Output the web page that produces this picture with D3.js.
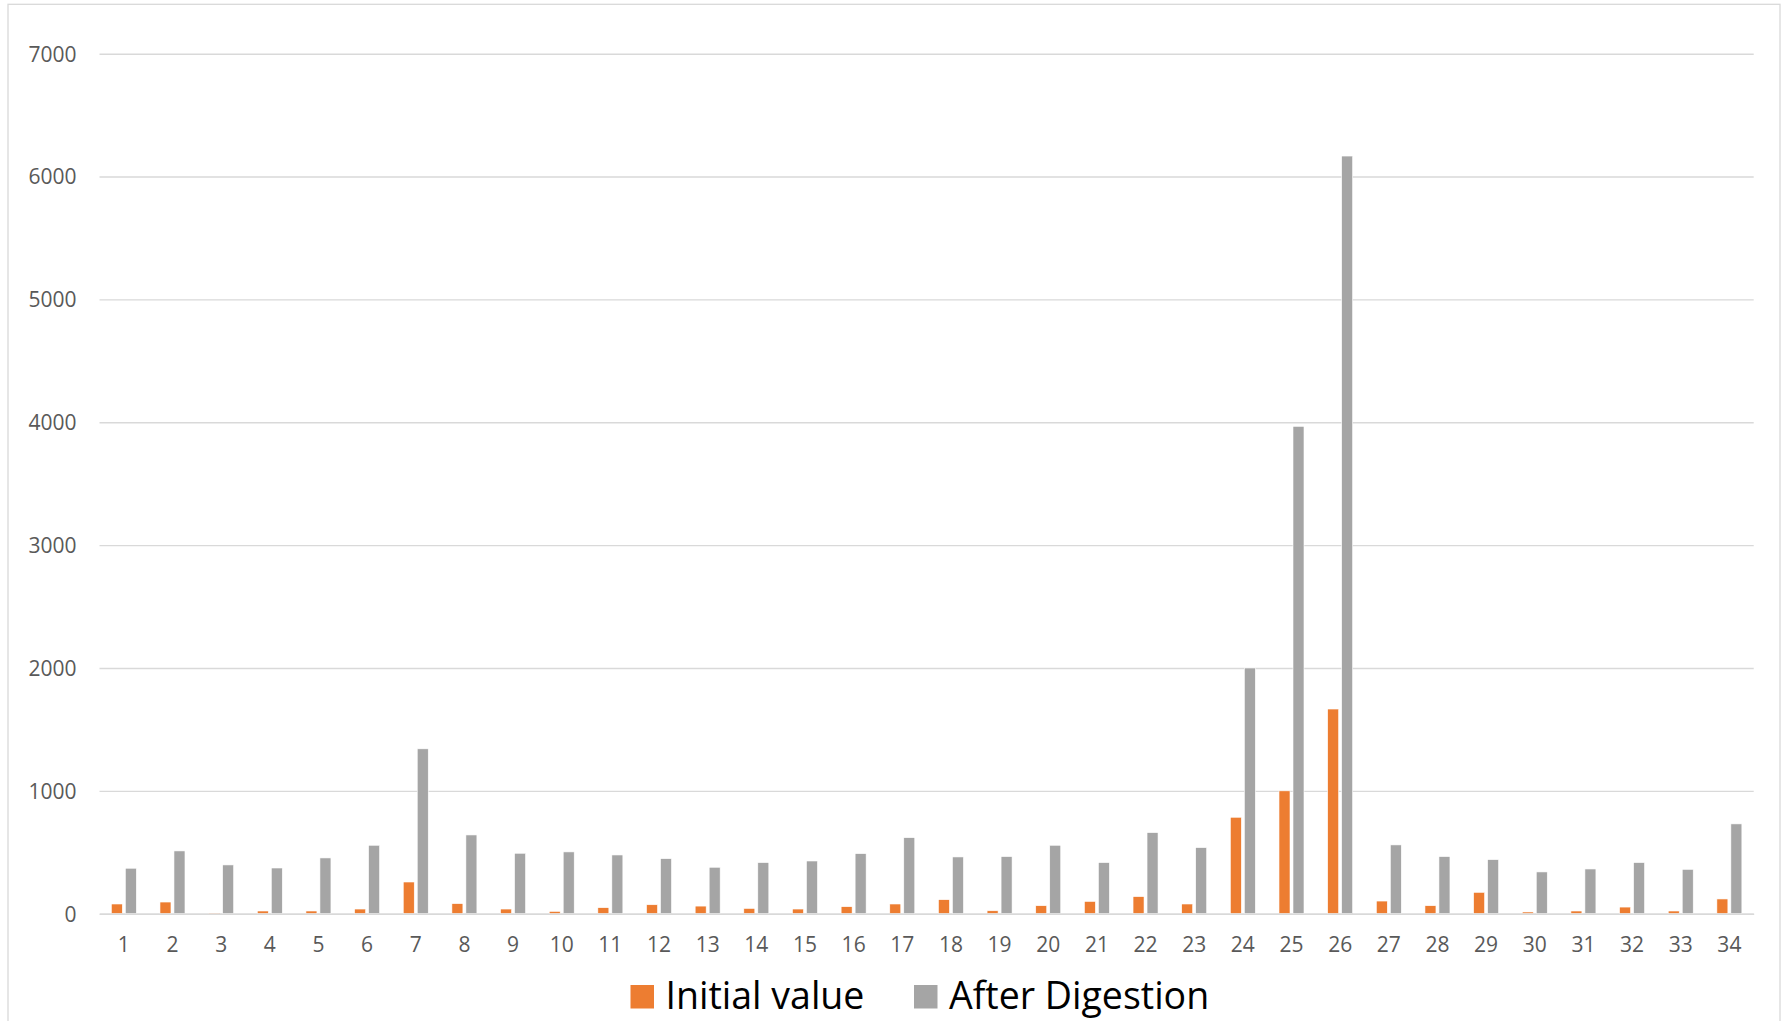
<!DOCTYPE html>
<html><head><meta charset="utf-8">
<script src="https://cdn.jsdelivr.net/npm/d3@7"></script>
<style>
html,body{margin:0;padding:0;background:#fff;}
svg{display:block;}
text{font-family:"Open Sans",sans-serif;}
</style></head>
<body>
<svg id="chart" width="1785" height="1021"></svg>
<script>
const categories = ["1","2","3","4","5","6","7","8","9","10","11","12","13","14","15","16","17","18","19","20","21","22","23","24","25","26","27","28","29","30","31","32","33","34"];
const seriesNames = ["Initial value","After Digestion"];
const initialValue = [79,95,5,22,22,38,258,82,38,19,49,73,62,43,38,57,79,114,24,65,100,139,79,785,1000,1666,103,65,174,14,22,54,22,120];
const afterDigestion = [370,511,397,372,454,557,1342,641,492,503,478,448,378,416,429,489,619,462,465,557,416,660,538,2000,3967,6167,560,465,440,340,364,416,361,731];
const yTicks = [0,1000,2000,3000,4000,5000,6000,7000];
const colors = ["#ED7D31","#A5A5A5"];

const svg = d3.select("#chart");
const W = 1785, H = 1021;
const m = {left:99.5, right:W-1753.7, top:53.7, bottom:H-913.7};

// chart border
svg.append("rect").attr("x",8).attr("y",4.3).attr("width",1772).attr("height",1030)
  .attr("fill","none").attr("stroke","#d9d9d9").attr("stroke-width",1.3);

const x0 = d3.scaleBand().domain(categories).range([m.left, W-m.right]).padding(0);
const y = d3.scaleLinear().domain([0,7000]).range([H-m.bottom, m.top]);
const groupW = 25;
const x1 = d3.scaleBand().domain(seriesNames)
  .range([x0.bandwidth()/2 - groupW/2, x0.bandwidth()/2 + groupW/2]).paddingInner(0.214);

// gridlines
const yAxis = d3.axisLeft(y).tickValues(yTicks).tickSize(-(W-m.left-m.right)).tickPadding(23).tickFormat(d3.format("d"));
const gy = svg.append("g").attr("transform",`translate(${m.left},0)`).call(yAxis);
gy.select(".domain").remove();
gy.selectAll(".tick line").attr("stroke","#d9d9d9").attr("stroke-width",1.4);
gy.selectAll(".tick text").attr("fill","#595959").style("font-size","21px").attr("dy","0.35em");

// bars
const data = categories.map((c,i)=>({cat:c, vals:[initialValue[i], afterDigestion[i]]}));
const groups = svg.append("g").selectAll("g").data(data).join("g")
  .attr("transform",d=>`translate(${x0(d.cat)},0)`);
groups.selectAll("rect").data(d=>d.vals.map((v,j)=>({s:seriesNames[j], v, j})))
  .join("rect")
  .attr("x",d=>x1(d.s)).attr("width",x1.bandwidth())
  .attr("y",d=>y(d.v)).attr("height",d=>y(0)-y(d.v))
  .attr("fill",d=>colors[d.j]).attr("stroke","#fff").attr("stroke-width",0.6);

// x axis
const xAxis = d3.axisBottom(x0).tickSize(0).tickPadding(23);
const gx = svg.append("g").attr("transform",`translate(0,${y(0)})`).call(xAxis);
gx.select(".domain").attr("stroke","#d9d9d9").attr("stroke-width",1.4);
gx.selectAll(".tick text").attr("fill","#595959").style("font-size","21px");

// legend
const legendX = [630.5, 914];
const leg = svg.append("g");
seriesNames.forEach((s,i)=>{
  leg.append("rect").attr("x",legendX[i]).attr("y",985).attr("width",23.5).attr("height",23.5).attr("fill",colors[i]);
  leg.append("text").attr("x",legendX[i]+35).attr("y",1009).text(s)
    .attr("fill","#000").style("font-size","37.5px");
});
</script>
</body></html>
